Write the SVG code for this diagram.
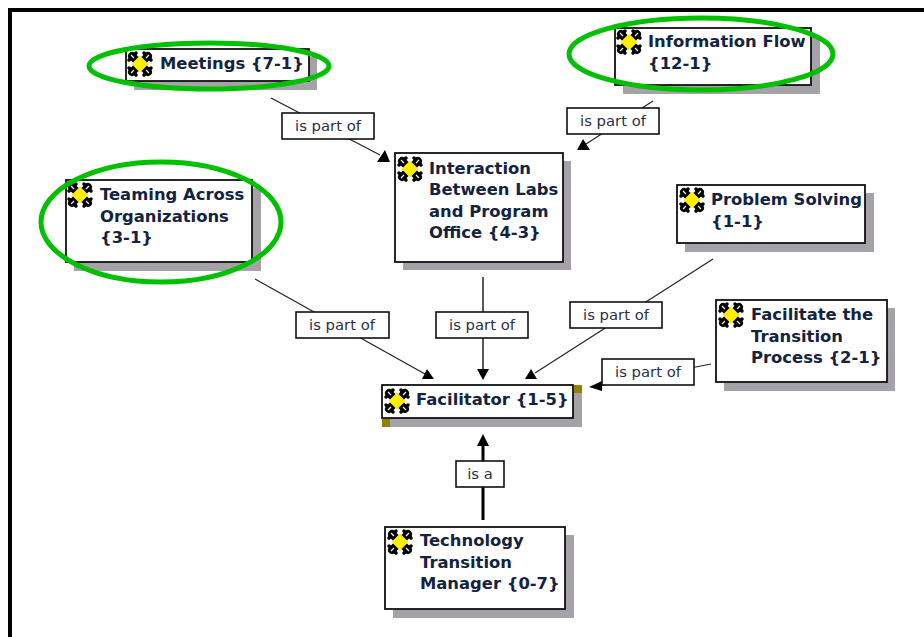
<svg xmlns="http://www.w3.org/2000/svg" width="924" height="637" viewBox="0 0 924 637">
<style>
.box{fill:#fff;stroke:#111;stroke-width:1.8}
.sh{fill:#a5a3a8}
.t{font-family:"DejaVu Sans",Verdana,sans-serif;font-weight:700;font-size:16.4px;fill:#14233f}
.lb{fill:#fff;stroke:#111;stroke-width:1.6}
.l{font-family:"DejaVu Sans",Verdana,sans-serif;font-size:14.8px;fill:#2a2f45;text-anchor:middle}
.c{stroke:#222;stroke-width:1.2;fill:none}
.h{fill:#000}
.ell{fill:none;stroke:#00c000;stroke-width:5}
</style>
<defs>
<g id="icon">
<path d="M-8-8L8 8M-8 8L8-8" stroke="#000" stroke-width="8" stroke-linecap="round"/>
<path d="M-4-11L-11-4M4-11L11-4M-4 11L-11 4M4 11L11 4" stroke="#000" stroke-width="3.500" stroke-linecap="round"/>
<path d="M-9-9L-6-6M9-9L6-6M-9 9L-6 6M9 9L6 6" stroke="#fff" stroke-width="1.200"/>
<path d="M0-8.500L8.500 0L0 8.500L-8.500 0Z" fill="#ffee00"/>
</g>
</defs>
<rect width="924" height="637" fill="#fff"/>
<path d="M10 637V10H924" fill="none" stroke="#000" stroke-width="4"/>
<g id="connectors">
<path class="c" d="M271 98L380 155"/><path class="h" d="M385 150L390 162H377Z"/>
<path class="c" d="M653 101L586 144"/><path class="h" d="M583 139L590 150H577Z"/>
<path class="c" d="M255 279L425 374"/><path class="h" d="M427 369L434 379H422Z"/>
<path class="c" d="M483 277V370" style="stroke-width:1.5"/><path class="h" d="M477 369H489L483 380Z"/>
<path class="c" d="M713 259L535 373"/><path class="h" d="M531 369L537 379H525Z"/>
<path class="c" d="M711 364L598 386"/><path class="h" d="M589 387L602 381V391Z"/>
<path class="c" d="M483 520V444" style="stroke-width:3;stroke:#000"/><path class="h" d="M483 434L489 446H477Z"/>
<g id="edge-labels">
<rect class="lb" x="282" y="113" width="92" height="26"/><text class="l" x="328" y="131">is part of</text>
<rect class="lb" x="567" y="108" width="92" height="26"/><text class="l" x="613" y="126">is part of</text>
<rect class="lb" x="296" y="312" width="93" height="26"/><text class="l" x="342" y="330">is part of</text>
<rect class="lb" x="436" y="312" width="92" height="26"/><text class="l" x="482" y="330">is part of</text>
<rect class="lb" x="570" y="302" width="92" height="26"/><text class="l" x="616" y="320">is part of</text>
<rect class="lb" x="602" y="359" width="92" height="26"/><text class="l" x="648" y="377">is part of</text>
<rect class="lb" x="456" y="461" width="48" height="26"/><text class="l" x="480" y="479">is a</text>
</g>
</g>
<g id="meetings"><rect class="sh" x="134" y="57" width="183" height="33"/><rect class="box" x="126" y="49" width="183" height="32"/><use href="#icon" x="140" y="64"/><text class="t" x="160" y="69">Meetings {7-1}</text></g>
<g id="information-flow"><rect class="sh" x="623" y="36" width="197" height="58"/><rect class="box" x="615" y="28" width="196" height="57"/><use href="#icon" x="629" y="42"/><text class="t" x="648" y="47">Information Flow</text><text class="t" x="648" y="69">{12-1}</text></g>
<g id="teaming"><rect class="sh" x="74" y="188" width="187" height="83"/><rect class="box" x="66" y="180" width="186" height="82"/><use href="#icon" x="80" y="195"/><text class="t" x="100" y="200">Teaming Across</text><text class="t" x="100" y="222">Organizations</text><text class="t" x="100" y="243">{3-1}</text></g>
<g id="interaction"><rect class="sh" x="403" y="161" width="168" height="109"/><rect class="box" x="395" y="153" width="168" height="109"/><use href="#icon" x="410" y="169"/><text class="t" x="429" y="174">Interaction</text><text class="t" x="429" y="195">Between Labs</text><text class="t" x="429" y="217">and Program</text><text class="t" x="429" y="238">Office {4-3}</text></g>
<g id="problem-solving"><rect class="sh" x="685" y="193" width="189" height="59"/><rect class="box" x="677" y="185" width="188" height="58"/><use href="#icon" x="692" y="200"/><text class="t" x="711" y="205">Problem Solving</text><text class="t" x="711" y="227">{1-1}</text></g>
<g id="facilitate"><rect class="sh" x="724" y="308" width="171" height="83"/><rect class="box" x="716" y="300" width="171" height="82"/><use href="#icon" x="731" y="315"/><text class="t" x="751" y="320">Facilitate the</text><text class="t" x="751" y="342">Transition</text><text class="t" x="751" y="363">Process {2-1}</text></g>
<g id="facilitator"><rect class="sh" x="390" y="393" width="192" height="34"/><rect x="574" y="385" width="8" height="8" fill="#8c8400"/><rect x="382" y="419" width="8" height="8" fill="#8c8400"/><rect class="box" x="382" y="385" width="191" height="33"/><use href="#icon" x="397" y="401"/><text class="t" x="416" y="405">Facilitator {1-5}</text></g>
<g id="ttm"><rect class="sh" x="393" y="535" width="181" height="83"/><rect class="box" x="385" y="527" width="180" height="82"/><use href="#icon" x="400" y="542"/><text class="t" x="420" y="546">Technology</text><text class="t" x="420" y="568">Transition</text><text class="t" x="420" y="589">Manager {0-7}</text></g>
<g id="highlights">
<ellipse class="ell" cx="209" cy="66" rx="120" ry="23"/>
<ellipse class="ell" cx="161" cy="222" rx="120" ry="60"/>
<ellipse class="ell" cx="701" cy="54" rx="132" ry="36"/>
</g>
</svg>
